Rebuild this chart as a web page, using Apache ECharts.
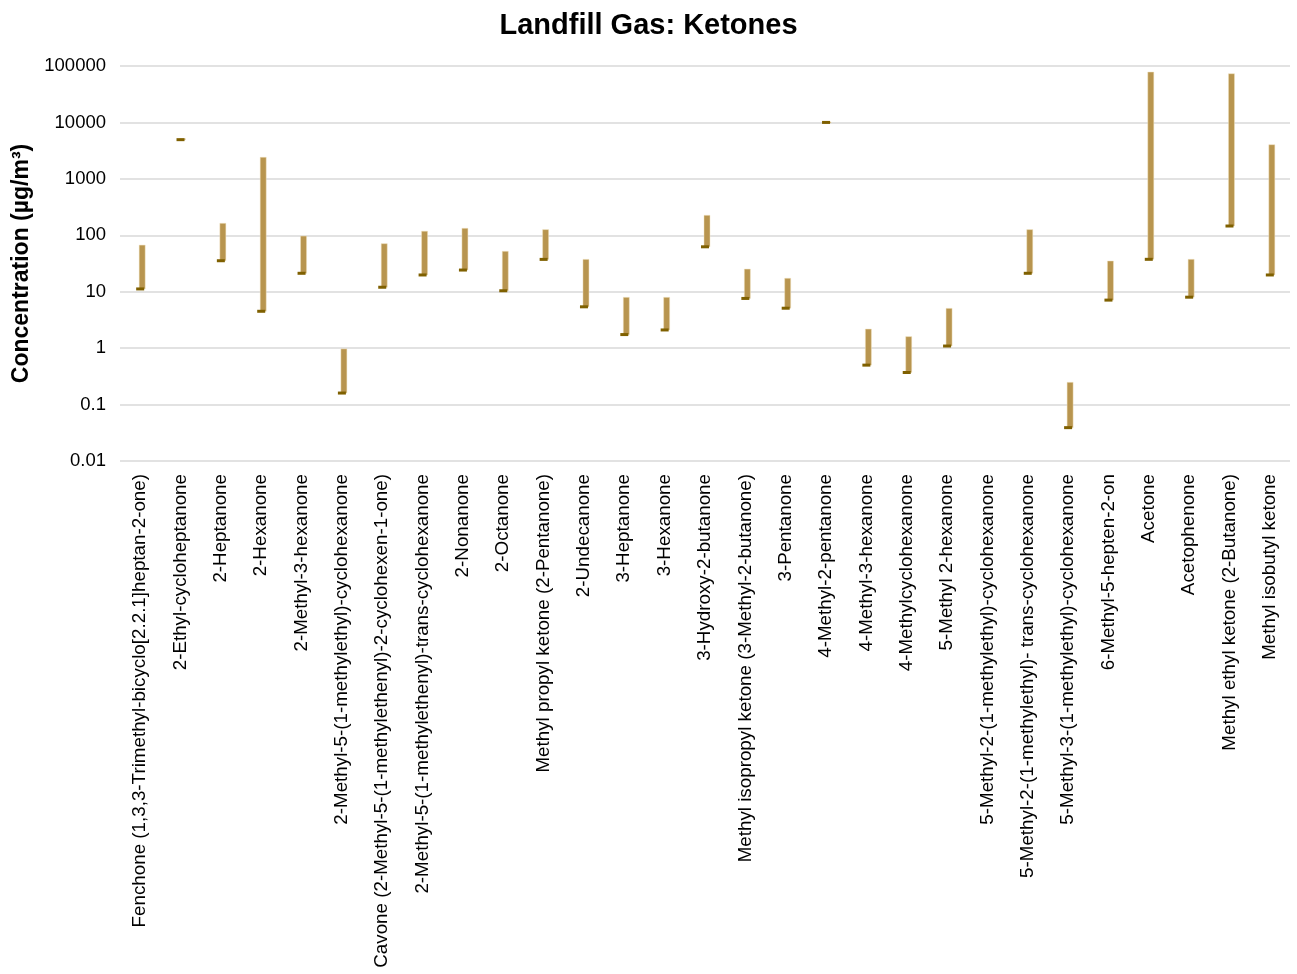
<!DOCTYPE html>
<html>
<head>
<meta charset="utf-8">
<title>Landfill Gas: Ketones</title>
<script src="https://cdn.jsdelivr.net/npm/echarts@6/dist/echarts.min.js"></script>
<style>
  html, body { margin: 0; padding: 0; background: #ffffff; }
  #chart { width: 1297px; height: 974px; }
</style>
</head>
<body>
<div id="chart"></div>
<script>
// Compounds measured in landfill gas
const categories = [
  'Fenchone (1,3,3-Trimethyl-bicyclo[2.2.1]heptan-2-one)',
  '2-Ethyl-cycloheptanone',
  '2-Heptanone',
  '2-Hexanone',
  '2-Methyl-3-hexanone',
  '2-Methyl-5-(1-methylethyl)-cyclohexanone',
  'Cavone (2-Methyl-5-(1-methylethenyl)-2-cyclohexen-1-one)',
  '2-Methyl-5-(1-methylethenyl)-trans-cyclohexanone',
  '2-Nonanone',
  '2-Octanone',
  'Methyl propyl ketone (2-Pentanone)',
  '2-Undecanone',
  '3-Heptanone',
  '3-Hexanone',
  '3-Hydroxy-2-butanone',
  'Methyl isopropyl ketone (3-Methyl-2-butanone)',
  '3-Pentanone',
  '4-Methyl-2-pentanone',
  '4-Methyl-3-hexanone',
  '4-Methylcyclohexanone',
  '5-Methyl 2-hexanone',
  '5-Methyl-2-(1-methylethyl)-cyclohexanone',
  '5-Methyl-2-(1-methylethyl)- trans-cyclohexanone',
  '5-Methyl-3-(1-methylethyl)-cyclohexanone',
  '6-Methyl-5-hepten-2-on',
  'Acetone',
  'Acetophenone',
  'Methyl ethyl ketone (2-Butanone)',
  'Methyl isobutyl ketone'
];

// Lowest measured concentration (µg/m³); null where not reported
const minValues = [
  11.2, 4950, 35.4, 4.5, 21.2, 0.16, 12.0, 19.8, 24.2, 10.4,
  37.4, 5.4, 1.74, 2.1, 62.5, 7.6, 5.1, 10000, 0.50, 0.37,
  1.09, null, 21.2, 0.039, 7.1, 37.5, 8.0, 146, 19.8
];

// Highest measured concentration (µg/m³); null where not reported
const maxValues = [
  67, 5150, 163, 2410, 97, 0.97, 71, 118, 133, 52,
  126, 37.4, 7.95, 7.95, 226, 25.2, 17.3, 10200, 2.18, 1.6,
  5.07, null, 126, 0.248, 35, 78000, 37.5, 73000, 4030
];

const yTicks = [0.01, 0.1, 1, 10, 100, 1000, 10000, 100000];

const rangeData = [];
categories.forEach((name, i) => {
  if (minValues[i] != null && maxValues[i] != null) {
    rangeData.push([i, minValues[i], maxValues[i]]);
  }
});

const FONT = '"Liberation Sans", Arial, sans-serif';
const chart = echarts.init(document.getElementById('chart'), null, { renderer: 'canvas' });

const option = {
  backgroundColor: '#ffffff',
  animation: false,
  textStyle: { fontFamily: FONT },
  title: {
    text: 'Landfill Gas: Ketones',
    left: 'center',
    top: 6,
    textStyle: {
      fontFamily: FONT,
      fontSize: 29,
      fontWeight: 'bold',
      color: '#000000'
    }
  },
  grid: {
    left: 120,
    right: 7,
    top: 66,
    bottom: 513,
    containLabel: false
  },
  xAxis: {
    type: 'category',
    data: categories,
    boundaryGap: true,
    axisLine: { show: false },
    axisTick: { show: false },
    axisLabel: {
      rotate: 90,
      interval: 0,
      margin: 13,
      fontSize: 18.8,
      color: '#000000',
      fontFamily: FONT
    },
    splitLine: { show: false }
  },
  yAxis: {
    type: 'log',
    logBase: 10,
    min: yTicks[0],
    max: yTicks[yTicks.length - 1],
    splitNumber: yTicks.length - 1,
    name: 'Concentration (µg/m³)',
    nameLocation: 'middle',
    nameGap: 86,
    nameRotate: 90,
    nameTextStyle: {
      fontFamily: FONT,
      fontSize: 23,
      fontWeight: 'bold',
      color: '#000000'
    },
    axisLine: { show: false },
    axisTick: { show: false },
    axisLabel: {
      margin: 14,
      fontSize: 18.5,
      color: '#000000',
      fontFamily: FONT,
      formatter: v => String(Number(Number(v).toPrecision(6)))
    },
    splitLine: { show: true, lineStyle: { color: '#d9d9d9', width: 1.5 } }
  },
  series: [{
    type: 'custom',
    data: rangeData,
    encode: { x: 0, y: [1, 2] },
    renderItem: function (params, api) {
      const idx = api.value(0);
      const lo = api.value(1);
      const hi = api.value(2);
      const pLo = api.coord([idx, lo]);
      const pHi = api.coord([idx, hi]);
      const cx = pLo[0];
      return {
        type: 'group',
        children: [
          {
            type: 'rect',
            shape: { x: cx - 1, y: pHi[1], width: 6, height: Math.max(pLo[1] - pHi[1], 1) },
            style: { fill: '#b8954f', stroke: 'rgba(240,225,190,0.8)', lineWidth: 0.6 }
          },
          {
            type: 'rect',
            shape: { x: cx - 4, y: pLo[1] - 1.5, width: 8, height: 3 },
            style: { fill: '#7f6000' }
          }
        ]
      };
    }
  }]
};

chart.setOption(option);
</script>
</body>
</html>
